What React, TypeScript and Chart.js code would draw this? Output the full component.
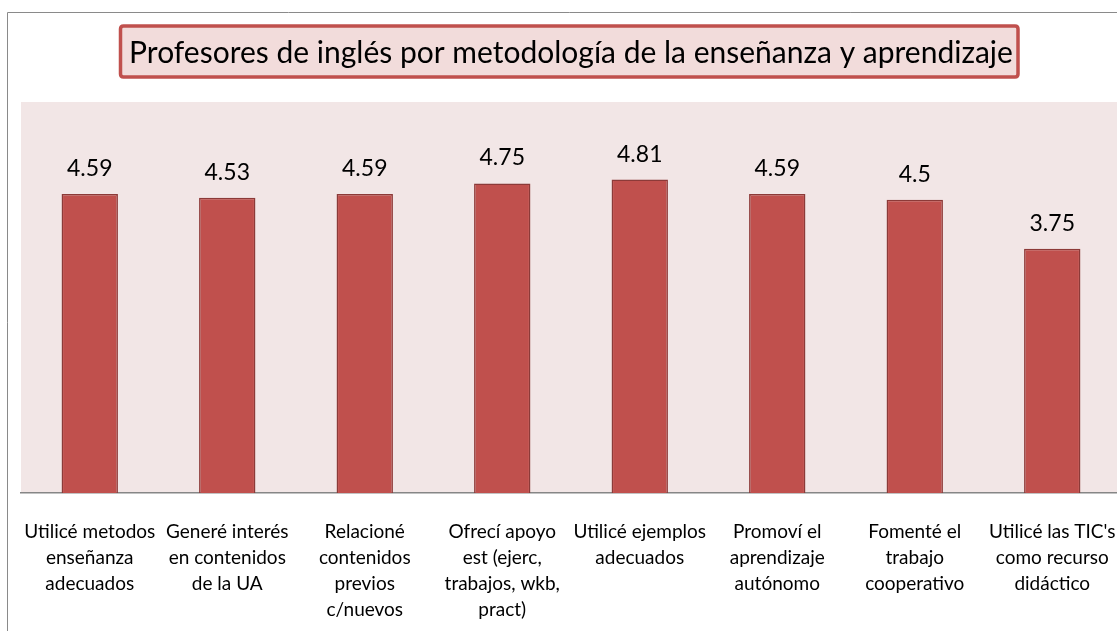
import React, { useEffect, useRef } from "react";
import { Chart, registerables } from "chart.js";

Chart.register(...registerables);

const TITLE = "Profesores de inglés por metodología de la enseñanza y aprendizaje";

const categories: string[][] = [
  ["Utilicé metodos", "enseñanza", "adecuados"],
  ["Generé interés", "en contenidos", "de la UA"],
  ["Relacioné", "contenidos", "previos", "c/nuevos"],
  ["Ofrecí apoyo", "est (ejerc,", "trabajos, wkb,", "pract)"],
  ["Utilicé ejemplos", "adecuados"],
  ["Promoví el", "aprendizaje", "autónomo"],
  ["Fomenté el", "trabajo", "cooperativo"],
  ["Utilicé las TIC's", "como recurso", "didáctico"],
];

const values: number[] = [4.59, 4.53, 4.59, 4.75, 4.81, 4.59, 4.5, 3.75];
const valueLabels: string[] = ["4.59", "4.53", "4.59", "4.75", "4.81", "4.59", "4.5", "3.75"];

const FONT = "Lato, 'Open Sans', sans-serif";
const W = 1130;
const H = 631;

const decorPlugin = {
  id: "decor",
  beforeDraw(chart: any) {
    const { ctx, chartArea } = chart;
    ctx.save();
    // outer border
    ctx.strokeStyle = "#8a8a8a";
    ctx.lineWidth = 1;
    ctx.beginPath();
    ctx.moveTo(7.5, H + 5);
    ctx.lineTo(7.5, 12.5);
    ctx.lineTo(W + 5, 12.5);
    ctx.stroke();
    // plot background
    ctx.fillStyle = "#f2e6e6";
    ctx.fillRect(chartArea.left, chartArea.top, chartArea.right - chartArea.left, chartArea.bottom - chartArea.top);
    // title box
    const x0 = 120.5;
    const x1 = 1018;
    const y0 = 26;
    const y1 = 77;
    ctx.fillStyle = "#f2dcdb";
    ctx.strokeStyle = "#c0504d";
    ctx.lineWidth = 3.5;
    ctx.beginPath();
    const r = 3;
    ctx.moveTo(x0 + r, y0);
    ctx.lineTo(x1 - r, y0);
    ctx.quadraticCurveTo(x1, y0, x1, y0 + r);
    ctx.lineTo(x1, y1 - r);
    ctx.quadraticCurveTo(x1, y1, x1 - r, y1);
    ctx.lineTo(x0 + r, y1);
    ctx.quadraticCurveTo(x0, y1, x0, y1 - r);
    ctx.lineTo(x0, y0 + r);
    ctx.quadraticCurveTo(x0, y0, x0 + r, y0);
    ctx.closePath();
    ctx.fill();
    ctx.stroke();
    ctx.restore();
  },
  afterDatasetsDraw(chart: any) {
    const { ctx } = chart;
    const meta = chart.getDatasetMeta(0);
    ctx.save();
    ctx.fillStyle = "#000";
    ctx.font = `23px ${FONT}`;
    ctx.textAlign = "center";
    ctx.textBaseline = "alphabetic";
    meta.data.forEach((bar: any, i: number) => {
      ctx.fillText(valueLabels[i], bar.x, bar.y - 18);
    });
    ctx.restore();
  },
};

export default function App() {
  const ref = useRef<HTMLCanvasElement | null>(null);
  useEffect(() => {
    if (!ref.current) return;
    const chart = new Chart(ref.current, {
      type: "bar",
      data: {
        labels: categories,
        datasets: [
          {
            data: values,
            backgroundColor: "#c0504d",
            borderColor: "#8c3a38",
            borderWidth: 1.5,
            barPercentage: 0.41,
            categoryPercentage: 1,
          },
        ],
      },
      options: {
        animation: false,
        responsive: false,
        maintainAspectRatio: false,
        layout: { padding: { left: 21, right: W - 1121, top: 0, bottom: 0 } },
        plugins: {
          legend: { display: false },
          tooltip: { enabled: false },
          title: {
            display: true,
            text: TITLE,
            color: "#000",
            font: { family: FONT, size: 30, weight: "normal", lineHeight: 1.2 },
            padding: { top: 35, bottom: 31 },
            align: "center",
            fullSize: false,
          } as any,
        },
        scales: {
          y: { display: false, min: 0, max: 6 },
          x: {
            grid: { display: false, drawTicks: false },
            border: { display: true, color: "#868686", width: 1.5 },
            ticks: {
              color: "#000",
              font: { family: FONT, size: 19, lineHeight: 1.37 },
              maxRotation: 0,
              minRotation: 0,
              autoSkip: false,
              padding: 26,
            },
            afterFit: (scale: any) => {
              scale.height = H - 493;
              scale.paddingLeft = 0;
              scale.paddingRight = 0;
            },
          },
        },
      },
      plugins: [decorPlugin],
    });
    return () => chart.destroy();
  }, []);
  return (
    <div style={{ position: "fixed", left: 0, top: 0, width: 1117, height: H, overflow: "hidden", background: "#fff" }}>
      <canvas ref={ref} width={W} height={H} style={{ width: W, height: H, display: "block" }} />
    </div>
  );
}
